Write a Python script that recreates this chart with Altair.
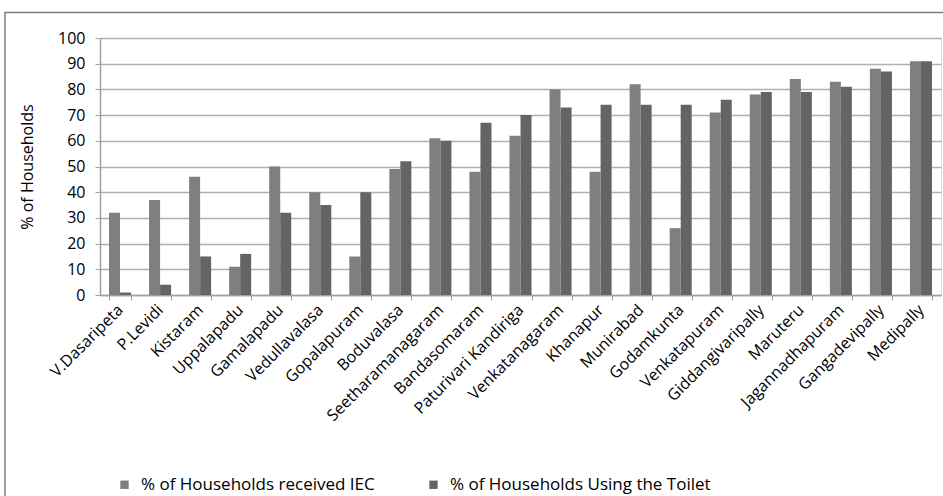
import altair as alt
import pandas as pd

villages = ["V.Dasaripeta", "P.Levidi", "Kistaram", "Uppalapadu", "Gamalapadu",
            "Vedullavalasa", "Gopalapuram", "Boduvalasa", "Seetharamanagaram",
            "Bandasomaram", "Paturivari Kandiriga", "Venkatanagaram", "Khanapur",
            "Munirabad", "Godamkunta", "Venkatapuram", "Giddangivaripally",
            "Maruteru", "Jagannadhapuram", "Gangadevipally", "Medipally"]
iec = [32, 37, 46, 11, 50, 40, 15, 49, 61, 48, 62, 80, 48, 82, 26, 71, 78, 84, 83, 88, 91]
toilet = [1, 4, 15, 16, 32, 35, 40, 52, 60, 67, 70, 73, 74, 74, 74, 76, 79, 79, 81, 87, 91]
series_names = ["% of Households received IEC", "% of Households Using the Toilet"]
colors = ["#7f7f7f", "#646464"]

rows = []
for v, a, b in zip(villages, iec, toilet):
    rows.append({"village": v, "series": series_names[0], "value": a})
    rows.append({"village": v, "series": series_names[1], "value": b})
df = pd.DataFrame(rows)

FONT = "Open Sans"

bars = alt.Chart(df).mark_bar().encode(
    x=alt.X("village:N", sort=villages, title=None,
            scale=alt.Scale(paddingInner=0.45, paddingOuter=0.225),
            axis=alt.Axis(labelAngle=-45, labelAlign="right", labelBaseline="middle",
                          labelPadding=7, labelFontSize=16, labelFont=FONT,
                          labelColor="#000000", tickBand="extent", tickSize=5,
                          tickColor="#a0a0a0", domainColor="#a0a0a0", domainWidth=1.5,
                          grid=False, labelOverlap=False, labelLimit=400)),
    xOffset=alt.XOffset("series:N", sort=series_names),
    y=alt.Y("value:Q", title="% of Households",
            scale=alt.Scale(domain=[0, 100], nice=False),
            axis=alt.Axis(values=list(range(0, 101, 10)), labelFontSize=16,
                          labelFont=FONT, labelColor="#000000", labelPadding=10,
                          tickSize=5, tickColor="#a0a0a0", domainColor="#a0a0a0",
                          domainWidth=1.5, gridColor="#b0b0b0", gridWidth=1.5,
                          titleFont=FONT, titleFontSize=16, titleFontWeight="normal",
                          titleColor="#000000", titlePadding=22)),
    color=alt.Color("series:N", sort=series_names,
                    scale=alt.Scale(domain=series_names, range=colors),
                    legend=alt.Legend(title=None, orient="none", legendX=16, legendY=438,
                                      direction="horizontal", symbolType="square",
                                      symbolSize=70, symbolStrokeWidth=0,
                                      labelFont=FONT, labelFontSize=17,
                                      labelColor="#000000", columnPadding=50,
                                      labelOffset=8, labelLimit=400)),
)

border = alt.Chart(pd.DataFrame({"k": [0]})).mark_rect(
    fillOpacity=0, stroke="#808080", strokeWidth=1.5
).encode(
    x=alt.value(-95), x2=alt.value(860), y=alt.value(-25.5), y2=alt.value(480)
)

chart = alt.layer(bars, border).properties(
    width=841, height=257,
    autosize=alt.AutoSizeParams(type="none"),
    padding={"left": 100, "top": 38, "right": 2, "bottom": 201},
).configure_view(stroke=None).configure(background="#ffffff")

chart.save("out.html", embed_options={"renderer": "svg", "actions": False})
